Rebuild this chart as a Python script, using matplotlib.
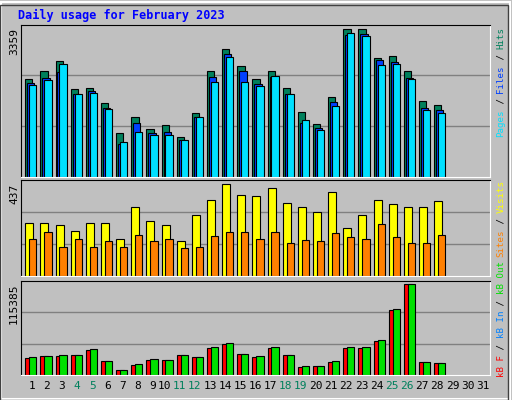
import matplotlib

matplotlib.use("Agg")

from matplotlib import pyplot as plt
from matplotlib.patches import Rectangle

days = list(range(1, 29))
hits = [2219, 2402, 2630, 1991, 2014, 1672, 988, 1353, 1079, 1170, 897, 1444, 2402, 2903,
        2516, 2219, 2402, 2014, 1467, 1193, 1809, 3359, 3359, 2698, 2744, 2402, 1718, 1626]
files = [2128, 2242, 2379, 1877, 1946, 1558, 737, 1216, 988, 1011, 828, 1353, 2265, 2789,
         2402, 2105, 2265, 1877, 1216, 1102, 1695, 3222, 3245, 2652, 2607, 2242, 1558, 1512]
pages = [2082, 2196, 2561, 1877, 1900, 1535, 783, 1011, 942, 942, 828, 1353, 2151, 2721,
         2151, 2060, 2288, 1877, 1284, 1056, 1604, 3268, 3200, 2538, 2561, 2219, 1512, 1444]
visits = [252, 252, 242, 218, 256, 256, 180, 332, 261, 242, 166, 294, 361, 437,
          389, 380, 418, 351, 332, 304, 399, 228, 290, 361, 342, 332, 328, 356]
sites = [176, 209, 142, 176, 142, 166, 138, 199, 166, 176, 133, 138, 190, 209,
         209, 180, 209, 157, 171, 166, 204, 185, 176, 247, 185, 157, 161, 195]
kb_f = [21471, 23997, 23997, 25260, 31575, 17682, 6315, 12630, 18945, 18945, 25260, 22734,
        34101, 39153, 26523, 22734, 34101, 25260, 10104, 11367, 16419, 34101, 34101, 42942,
        82095, 115385, 16419, 15156]
kb_out = [22734, 23997, 25260, 25260, 32838, 17682, 6315, 13893, 20208, 18945, 25260, 22734,
          35364, 40416, 26523, 23997, 35364, 25260, 11367, 11367, 17682, 35364, 35364, 44205,
          83358, 115385, 16419, 15156]
weekends = [4, 5, 11, 12, 18, 19, 25, 26]

BG = "#c0c0c0"
GRID = "#808080"
MONO = "DejaVu Sans Mono"

fig = plt.figure(figsize=(5.12, 4.0), dpi=100, facecolor=BG)
# outer raised frame
fig.patches.append(Rectangle((0.002, 0.002), 0.994, 0.994, transform=fig.transFigure,
                             fill=False, edgecolor="white", linewidth=1.5))
fig.patches.append(Rectangle((0.0, 0.0), 0.993, 0.988, transform=fig.transFigure,
                             fill=False, edgecolor="#404040", linewidth=1))


def panel(bottom, height, ymax):
    ax = fig.add_axes([0.0404, bottom, 0.917, height], facecolor=BG)
    ax.set_xlim(0, 31)
    ax.set_ylim(0, ymax)
    ax.set_xticks([])
    ax.set_yticks([])
    for frac in (1 / 3, 2 / 3):
        ax.axhline(ymax * frac, color=GRID, linewidth=1, zorder=0)
    ax.spines["top"].set_color("black")
    ax.spines["left"].set_color("black")
    ax.spines["bottom"].set_color("white")
    ax.spines["right"].set_color("white")
    return ax


def bars(ax, offset, width, values, color):
    ax.bar([d - 1 + offset for d in days], values, width=width, align="edge",
           color=color, edgecolor="black", linewidth=0.8, zorder=2)


ax1 = panel(0.558, 0.38, 3464)
bars(ax1, 0.30, 0.48, hits, "#00805c")
bars(ax1, 0.43, 0.48, files, "#0040ff")
bars(ax1, 0.56, 0.48, pages, "#00e0ff")

ax2 = panel(0.309, 0.24, 456)
bars(ax2, 0.30, 0.53, visits, "#ffff00")
bars(ax2, 0.56, 0.48, sites, "#ff8000")

ax3 = panel(0.062, 0.2365, 119596)
bars(ax3, 0.30, 0.53, kb_f, "#ff0000")
bars(ax3, 0.56, 0.48, kb_out, "#00e000")

for d in range(1, 32):
    ax3.text(d - 0.05, -0.06, str(d), transform=ax3.get_xaxis_transform(), ha="right",
             va="top", fontsize=8, family=MONO,
             color="#00805c" if d in weekends else "black")

fig.text(18 / 512, 1 - 15 / 400, "Daily usage for February 2023", fontsize=8.5,
         family=MONO, weight="bold", color="#0000ff", va="center")

for label, top in (("3359", 28), ("437", 184), ("115385", 283)):
    fig.text(14 / 512, 1 - top / 400, label, rotation=90, fontsize=8, family=MONO,
             ha="center", va="top")


def vertical_runs(x_px, bottom_px, runs, size=6.6):
    step = 0.602 * size * 100 / 72
    pos = bottom_px
    for text, color in runs:
        fig.text(x_px / 512, 1 - pos / 400, text, rotation=90, fontsize=size, family=MONO,
                 color=color, ha="center", va="bottom")
        pos -= step * len(text)


vertical_runs(501, 137, [("Pages", "#00e0ff"), (" / ", "black"), ("Files", "#0040ff"),
                         (" / ", "black"), ("Hits", "#00805c")])
vertical_runs(501, 257, [("Sites", "#ff8000"), (" / ", "black"), ("Visits", "#ffff00")])
vertical_runs(501, 377, [("kB F", "#ff0000"), (" / ", "black"), ("kB In", "#0080ff"),
                         (" / ", "black"), ("kB Out", "#00e000")])

fig.savefig("out.png", dpi=100, facecolor=BG)
